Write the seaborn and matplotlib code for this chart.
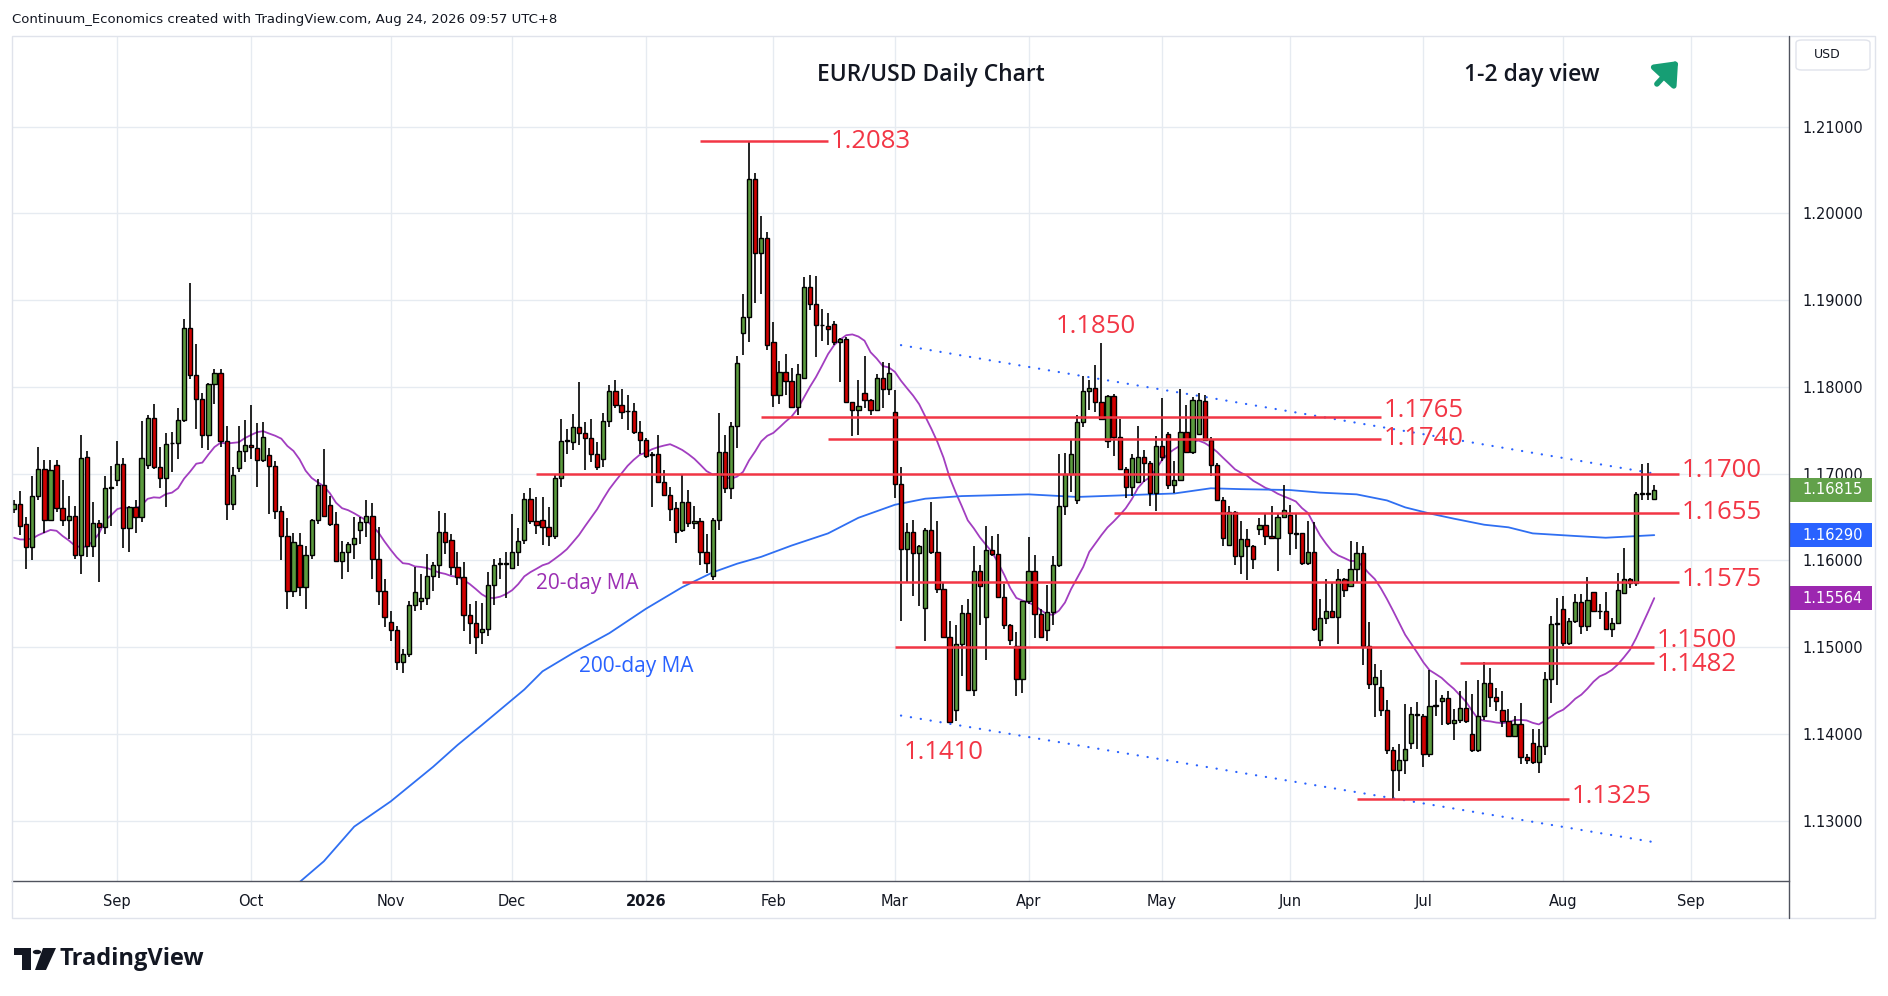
import numpy as np
import pandas as pd
import matplotlib
matplotlib.use("Agg")
import matplotlib.pyplot as plt
import matplotlib.transforms as mtransforms
from matplotlib.patches import Rectangle, Circle, Polygon, FancyBboxPatch
from matplotlib.lines import Line2D
import seaborn as sns

# -------------------------
# Data: EUR/USD daily candles
# -------------------------
first_day = "2025-08-07"
calendar_end = "2026-09-30"
holidays = ["2025-12-25", "2026-01-01"]

opens = [
    1.1659, 1.1665, 1.1642, 1.1615, 1.1674, 1.1705, 1.1647, 1.1710, 1.1660, 1.1646,
    1.1651, 1.1606, 1.1719, 1.1617, 1.1643, 1.1638, 1.1683, 1.1692, 1.1711, 1.1637,
    1.1661, 1.1650, 1.1710, 1.1764, 1.1708, 1.1695, 1.1735, 1.1735, 1.1762, 1.1868,
    1.1814, 1.1786, 1.1744, 1.1803, 1.1816, 1.1737, 1.1665, 1.1706, 1.1726, 1.1733,
    1.1730, 1.1716, 1.1721, 1.1709, 1.1657, 1.1628, 1.1565, 1.1618, 1.1569, 1.1606,
    1.1646, 1.1687, 1.1664, 1.1642, 1.1599, 1.1610, 1.1619, 1.1635, 1.1644, 1.1651,
    1.1602, 1.1565, 1.1529, 1.1520, 1.1483, 1.1492, 1.1548, 1.1553, 1.1557, 1.1582,
    1.1594, 1.1633, 1.1623, 1.1592, 1.1581, 1.1537, 1.1528, 1.1517, 1.1521, 1.1571,
    1.1596, 1.1596, 1.1591, 1.1610, 1.1623, 1.1671, 1.1645, 1.1646, 1.1638, 1.1628,
    1.1695, 1.1738, 1.1736, 1.1754, 1.1747, 1.1741, 1.1723, 1.1717, 1.1760, 1.1795,
    1.1779, 1.1772, 1.1772, 1.1748, 1.1739, 1.1721, 1.1723, 1.1690, 1.1675, 1.1660,
    1.1635, 1.1667, 1.1643, 1.1645, 1.1609, 1.1582, 1.1646, 1.1725, 1.1683, 1.1755,
    1.1862, 1.1881, 1.2039, 1.1954, 1.1971, 1.1852, 1.1790, 1.1817, 1.1807, 1.1777,
    1.1810, 1.1915, 1.1895, 1.1871, 1.1870, 1.1872, 1.1852, 1.1855, 1.1782, 1.1773,
    1.1793, 1.1785, 1.1773, 1.1810, 1.1797, 1.1771, 1.1688, 1.1613, 1.1633, 1.1608,
    1.1545, 1.1635, 1.1610, 1.1567, 1.1511, 1.1427, 1.1504, 1.1539, 1.1451, 1.1588,
    1.1535, 1.1612, 1.1607, 1.1558, 1.1525, 1.1501, 1.1463, 1.1553, 1.1588, 1.1538,
    1.1520, 1.1540, 1.1594, 1.1663, 1.1699, 1.1670, 1.1759, 1.1795, 1.1799, 1.1782,
    1.1737, 1.1789, 1.1742, 1.1705, 1.1684, 1.1690, 1.1719, 1.1712, 1.1678, 1.1732,
    1.1746, 1.1687, 1.1693, 1.1748, 1.1725, 1.1746, 1.1784, 1.1739, 1.1710, 1.1670,
    1.1618, 1.1656, 1.1605, 1.1624, 1.1617, 1.1636, 1.1641, 1.1628, 1.1626, 1.1650,
    1.1652, 1.1631, 1.1631, 1.1597, 1.1610, 1.1508, 1.1533, 1.1542, 1.1535, 1.1578,
    1.1570, 1.1590, 1.1608, 1.1501, 1.1457, 1.1454, 1.1427, 1.1381, 1.1358, 1.1370,
    1.1389, 1.1423, 1.1421, 1.1377, 1.1432, 1.1438, 1.1441, 1.1412, 1.1416, 1.1430,
    1.1400, 1.1381, 1.1421, 1.1459, 1.1442, 1.1427, 1.1415, 1.1398, 1.1411, 1.1373,
    1.1389, 1.1367, 1.1386, 1.1463, 1.1527, 1.1544, 1.1505, 1.1530, 1.1552, 1.1524,
    1.1563, 1.1541, 1.1541, 1.1521, 1.1528, 1.1562, 1.1578, 1.1574, 1.1676, 1.1678,
    1.1671,
]

highs = [
    1.1670, 1.1680, 1.1650, 1.1697, 1.1731, 1.1716, 1.1716, 1.1716, 1.1693, 1.1674,
    1.1663, 1.1744, 1.1726, 1.1667, 1.1647, 1.1697, 1.1709, 1.1737, 1.1718, 1.1662,
    1.1670, 1.1760, 1.1767, 1.1780, 1.1731, 1.1747, 1.1748, 1.1775, 1.1878, 1.1920,
    1.1849, 1.1793, 1.1804, 1.1821, 1.1820, 1.1755, 1.1708, 1.1755, 1.1762, 1.1779,
    1.1758, 1.1759, 1.1730, 1.1715, 1.1662, 1.1649, 1.1632, 1.1631, 1.1616, 1.1648,
    1.1694, 1.1728, 1.1674, 1.1656, 1.1622, 1.1621, 1.1650, 1.1650, 1.1670, 1.1666,
    1.1638, 1.1578, 1.1542, 1.1524, 1.1498, 1.1553, 1.1592, 1.1584, 1.1607, 1.1598,
    1.1657, 1.1654, 1.1630, 1.1609, 1.1598, 1.1550, 1.1553, 1.1551, 1.1587, 1.1602,
    1.1603, 1.1610, 1.1653, 1.1637, 1.1678, 1.1683, 1.1673, 1.1673, 1.1661, 1.1700,
    1.1763, 1.1751, 1.1769, 1.1805, 1.1759, 1.1763, 1.1736, 1.1770, 1.1802, 1.1808,
    1.1798, 1.1790, 1.1781, 1.1760, 1.1741, 1.1725, 1.1744, 1.1704, 1.1684, 1.1667,
    1.1699, 1.1681, 1.1662, 1.1649, 1.1630, 1.1649, 1.1770, 1.1744, 1.1759, 1.1835,
    1.1907, 1.2083, 1.2046, 1.1997, 1.1978, 1.1875, 1.1830, 1.1838, 1.1822, 1.1826,
    1.1927, 1.1929, 1.1928, 1.1890, 1.1885, 1.1876, 1.1856, 1.1857, 1.1783, 1.1808,
    1.1835, 1.1786, 1.1815, 1.1828, 1.1827, 1.1796, 1.1707, 1.1643, 1.1647, 1.1618,
    1.1637, 1.1667, 1.1645, 1.1575, 1.1530, 1.1525, 1.1548, 1.1555, 1.1617, 1.1595,
    1.1639, 1.1628, 1.1630, 1.1573, 1.1526, 1.1517, 1.1553, 1.1627, 1.1606, 1.1544,
    1.1572, 1.1605, 1.1723, 1.1724, 1.1740, 1.1767, 1.1812, 1.1808, 1.1825, 1.1850,
    1.1791, 1.1792, 1.1763, 1.1707, 1.1722, 1.1755, 1.1727, 1.1714, 1.1743, 1.1787,
    1.1748, 1.1715, 1.1798, 1.1779, 1.1788, 1.1793, 1.1790, 1.1742, 1.1712, 1.1673,
    1.1662, 1.1657, 1.1645, 1.1636, 1.1618, 1.1649, 1.1654, 1.1662, 1.1654, 1.1687,
    1.1664, 1.1655, 1.1632, 1.1645, 1.1644, 1.1555, 1.1578, 1.1574, 1.1590, 1.1580,
    1.1622, 1.1621, 1.1616, 1.1529, 1.1480, 1.1474, 1.1439, 1.1385, 1.1388, 1.1434,
    1.1431, 1.1437, 1.1423, 1.1474, 1.1462, 1.1445, 1.1449, 1.1428, 1.1449, 1.1461,
    1.1446, 1.1462, 1.1483, 1.1476, 1.1453, 1.1449, 1.1428, 1.1421, 1.1435, 1.1377,
    1.1406, 1.1405, 1.1471, 1.1536, 1.1557, 1.1559, 1.1533, 1.1561, 1.1561, 1.1581,
    1.1564, 1.1550, 1.1563, 1.1533, 1.1585, 1.1614, 1.1579, 1.1679, 1.1711, 1.1712,
    1.1687,
]

lows = [
    1.1655, 1.1629, 1.1590, 1.1600, 1.1670, 1.1632, 1.1645, 1.1656, 1.1640, 1.1624,
    1.1602, 1.1584, 1.1604, 1.1604, 1.1575, 1.1630, 1.1639, 1.1686, 1.1614, 1.1609,
    1.1631, 1.1644, 1.1705, 1.1705, 1.1683, 1.1661, 1.1702, 1.1717, 1.1759, 1.1809,
    1.1751, 1.1730, 1.1727, 1.1780, 1.1731, 1.1646, 1.1658, 1.1702, 1.1713, 1.1717,
    1.1684, 1.1713, 1.1653, 1.1648, 1.1600, 1.1544, 1.1558, 1.1559, 1.1544, 1.1602,
    1.1642, 1.1651, 1.1639, 1.1599, 1.1578, 1.1586, 1.1602, 1.1619, 1.1627, 1.1578,
    1.1548, 1.1523, 1.1507, 1.1474, 1.1470, 1.1488, 1.1542, 1.1543, 1.1548, 1.1565,
    1.1580, 1.1607, 1.1583, 1.1572, 1.1518, 1.1504, 1.1492, 1.1504, 1.1513, 1.1548,
    1.1578, 1.1557, 1.1591, 1.1593, 1.1619, 1.1642, 1.1630, 1.1618, 1.1617, 1.1625,
    1.1684, 1.1722, 1.1727, 1.1733, 1.1704, 1.1713, 1.1704, 1.1708, 1.1754, 1.1775,
    1.1763, 1.1750, 1.1745, 1.1722, 1.1718, 1.1661, 1.1689, 1.1674, 1.1645, 1.1620,
    1.1633, 1.1638, 1.1636, 1.1595, 1.1585, 1.1577, 1.1635, 1.1677, 1.1671, 1.1730,
    1.1837, 1.1852, 1.1897, 1.1907, 1.1842, 1.1777, 1.1780, 1.1791, 1.1775, 1.1767,
    1.1810, 1.1888, 1.1834, 1.1853, 1.1848, 1.1848, 1.1806, 1.1782, 1.1743, 1.1744,
    1.1775, 1.1767, 1.1772, 1.1775, 1.1790, 1.1672, 1.1530, 1.1575, 1.1559, 1.1547,
    1.1507, 1.1607, 1.1562, 1.1510, 1.1412, 1.1415, 1.1467, 1.1451, 1.1443, 1.1525,
    1.1485, 1.1605, 1.1556, 1.1521, 1.1502, 1.1444, 1.1447, 1.1550, 1.1510, 1.1510,
    1.1507, 1.1525, 1.1592, 1.1652, 1.1679, 1.1665, 1.1754, 1.1773, 1.1771, 1.1762,
    1.1729, 1.1720, 1.1704, 1.1672, 1.1674, 1.1690, 1.1690, 1.1663, 1.1657, 1.1715,
    1.1682, 1.1678, 1.1693, 1.1724, 1.1723, 1.1745, 1.1739, 1.1697, 1.1669, 1.1617,
    1.1617, 1.1594, 1.1584, 1.1577, 1.1590, 1.1629, 1.1618, 1.1624, 1.1588, 1.1649,
    1.1606, 1.1613, 1.1595, 1.1595, 1.1519, 1.1501, 1.1527, 1.1534, 1.1503, 1.1558,
    1.1570, 1.1575, 1.1479, 1.1452, 1.1419, 1.1420, 1.1377, 1.1325, 1.1334, 1.1354,
    1.1382, 1.1382, 1.1362, 1.1373, 1.1421, 1.1410, 1.1410, 1.1393, 1.1412, 1.1412,
    1.1379, 1.1379, 1.1416, 1.1431, 1.1426, 1.1408, 1.1397, 1.1396, 1.1365, 1.1365,
    1.1365, 1.1355, 1.1376, 1.1435, 1.1456, 1.1501, 1.1502, 1.1528, 1.1515, 1.1518,
    1.1540, 1.1532, 1.1520, 1.1512, 1.1526, 1.1562, 1.1568, 1.1570, 1.1669, 1.1669,
    1.1671,
]

closes = [
    1.1665, 1.1640, 1.1615, 1.1674, 1.1705, 1.1647, 1.1704, 1.1660, 1.1646, 1.1651,
    1.1606, 1.1718, 1.1617, 1.1643, 1.1638, 1.1683, 1.1684, 1.1711, 1.1637, 1.1661,
    1.1650, 1.1718, 1.1764, 1.1708, 1.1695, 1.1734, 1.1735, 1.1762, 1.1868, 1.1814,
    1.1786, 1.1744, 1.1803, 1.1816, 1.1737, 1.1665, 1.1698, 1.1726, 1.1733, 1.1731,
    1.1716, 1.1742, 1.1709, 1.1657, 1.1628, 1.1565, 1.1621, 1.1569, 1.1606, 1.1646,
    1.1687, 1.1651, 1.1642, 1.1599, 1.1610, 1.1619, 1.1626, 1.1644, 1.1651, 1.1602,
    1.1565, 1.1535, 1.1520, 1.1483, 1.1492, 1.1548, 1.1563, 1.1557, 1.1582, 1.1594,
    1.1633, 1.1621, 1.1592, 1.1581, 1.1537, 1.1528, 1.1511, 1.1521, 1.1571, 1.1595,
    1.1596, 1.1596, 1.1610, 1.1622, 1.1671, 1.1645, 1.1641, 1.1638, 1.1628, 1.1695,
    1.1738, 1.1739, 1.1754, 1.1747, 1.1741, 1.1723, 1.1708, 1.1760, 1.1795, 1.1779,
    1.1771, 1.1772, 1.1748, 1.1739, 1.1720, 1.1723, 1.1690, 1.1675, 1.1659, 1.1633,
    1.1667, 1.1643, 1.1645, 1.1609, 1.1597, 1.1646, 1.1725, 1.1683, 1.1755, 1.1827,
    1.1881, 1.2039, 1.1954, 1.1971, 1.1848, 1.1790, 1.1817, 1.1807, 1.1777, 1.1815,
    1.1915, 1.1895, 1.1871, 1.1871, 1.1867, 1.1852, 1.1855, 1.1782, 1.1773, 1.1778,
    1.1785, 1.1773, 1.1810, 1.1797, 1.1816, 1.1688, 1.1613, 1.1633, 1.1608, 1.1616,
    1.1635, 1.1610, 1.1567, 1.1511, 1.1414, 1.1504, 1.1539, 1.1451, 1.1588, 1.1570,
    1.1612, 1.1607, 1.1558, 1.1525, 1.1508, 1.1463, 1.1553, 1.1588, 1.1538, 1.1512,
    1.1540, 1.1594, 1.1663, 1.1699, 1.1723, 1.1759, 1.1795, 1.1799, 1.1782, 1.1763,
    1.1789, 1.1742, 1.1705, 1.1684, 1.1718, 1.1719, 1.1712, 1.1678, 1.1732, 1.1719,
    1.1687, 1.1693, 1.1748, 1.1725, 1.1785, 1.1785, 1.1739, 1.1710, 1.1670, 1.1626,
    1.1656, 1.1605, 1.1624, 1.1617, 1.1602, 1.1641, 1.1628, 1.1626, 1.1650, 1.1658,
    1.1631, 1.1630, 1.1597, 1.1610, 1.1521, 1.1533, 1.1542, 1.1535, 1.1578, 1.1566,
    1.1590, 1.1608, 1.1501, 1.1457, 1.1465, 1.1427, 1.1381, 1.1358, 1.1370, 1.1382,
    1.1423, 1.1422, 1.1377, 1.1432, 1.1433, 1.1441, 1.1412, 1.1416, 1.1430, 1.1415,
    1.1381, 1.1420, 1.1459, 1.1442, 1.1438, 1.1415, 1.1398, 1.1411, 1.1373, 1.1370,
    1.1367, 1.1386, 1.1463, 1.1526, 1.1527, 1.1505, 1.1530, 1.1552, 1.1524, 1.1554,
    1.1541, 1.1541, 1.1521, 1.1528, 1.1566, 1.1578, 1.1574, 1.1676, 1.1678, 1.1676,
    1.16815,
]

# 20-day MA for the first days, before 20 closes are on the chart
ma20_lead = [1.1626, 1.1624, 1.1624, 1.1625, 1.1629, 1.1632, 1.1635, 1.1634, 1.1628, 1.1623,
             1.1617, 1.1615, 1.1616, 1.1622, 1.1631, 1.1646, 1.1652, 1.1659, 1.1661]

# 200-day MA
ma200_dates = ["2025-10-13", "2025-10-17", "2025-10-24", "2025-11-03", "2025-11-12", "2025-11-18",
               "2025-11-24", "2025-12-03", "2025-12-08", "2025-12-15", "2025-12-23", "2026-01-02",
               "2026-01-12", "2026-01-19", "2026-01-23", "2026-01-29", "2026-02-05", "2026-02-13",
               "2026-02-20", "2026-03-02", "2026-03-09", "2026-03-17", "2026-04-01", "2026-04-13",
               "2026-04-23", "2026-05-05", "2026-05-13", "2026-05-20", "2026-06-01", "2026-06-08",
               "2026-06-16", "2026-06-23", "2026-06-26", "2026-07-02", "2026-07-08", "2026-07-15",
               "2026-07-21", "2026-07-27", "2026-08-05", "2026-08-12", "2026-08-24"]
ma200_values = [1.1229, 1.1253, 1.1293, 1.1322, 1.1362, 1.1387,
                1.1410, 1.1451, 1.1472, 1.1493, 1.1516, 1.1544,
                1.1569, 1.1586, 1.1596, 1.1604, 1.1617, 1.1631,
                1.1649, 1.1664, 1.1671, 1.1674, 1.1676, 1.1673,
                1.1675, 1.1677, 1.1683, 1.1682, 1.1681, 1.1678,
                1.1676, 1.1669, 1.1661, 1.1654, 1.1648, 1.1641,
                1.1638, 1.1631, 1.1628, 1.1626, 1.16290]

# support / resistance levels
level_values = [1.2083, 1.1765, 1.1740, 1.1700, 1.1655, 1.1575, 1.1500, 1.1482, 1.1325]
level_starts = ["2026-01-15", "2026-01-29", "2026-02-13", "2025-12-05", "2026-04-21",
                "2026-01-12", "2026-03-02", "2026-07-09", "2026-06-16"]
level_ends = ["2026-02-13", "2026-06-22", "2026-06-22", "2026-08-28", "2026-08-28",
              "2026-08-28", "2026-08-24", "2026-08-24", "2026-08-04"]

# marked swing points without a line
swing_values = [1.1850, 1.1410]
swing_dates = ["2026-04-16", "2026-03-12"]

# channel trend lines
trend_dates = ["2026-03-03", "2026-08-24"]
trend_upper = [1.1848, 1.1700]
trend_lower = [1.1421, 1.1275]

# -------------------------
# Build frame
# -------------------------
days = pd.bdate_range(first_day, calendar_end)
days = days[~days.isin(pd.to_datetime(holidays))]
pos = pd.Series(np.arange(len(days)), index=days)

n = len(closes)
df = pd.DataFrame({"date": days[:n], "open": opens, "high": highs, "low": lows, "close": closes})
df["x"] = np.arange(n)
ma20 = df["close"].rolling(20).mean()
ma20.iloc[:19] = ma20_lead
df["ma20"] = ma20

ma200 = pd.DataFrame({"x": pos[pd.to_datetime(ma200_dates)].values, "value": ma200_values})


def xpos(d):
    return pos[pd.Timestamp(d)]


# -------------------------
# Style
# -------------------------
sns.set_style("white")
plt.rcParams["font.family"] = ["DejaVu Sans"]

GREEN = "#5b9b3e"
RED_BODY = "#d10000"
LEVEL_RED = "#f23645"
PURPLE = "#a23ec0"
BLUE = "#2f6ff2"
GRID = "#e6ebf1"
TEXT = "#131722"

W, H = 1888, 996
L, R, T, B = 12, 1789, 37, 881
ymin, ymax = 1.12303, 1.22032
xmin, xmax = -0.33, 292.18

fig = plt.figure(figsize=(W / 100, H / 100), dpi=100)
fig.patch.set_facecolor("white")
ax = fig.add_axes([L / W, 1 - B / H, (R - L) / W, (B - T) / H])

# -------------------------
# Moving averages
# -------------------------
sns.lineplot(x=df["x"], y=df["ma20"], ax=ax, color=PURPLE, linewidth=1.3, estimator=None, sort=False, zorder=2)
sns.lineplot(x=ma200["x"], y=ma200["value"], ax=ax, color=BLUE, linewidth=1.3, estimator=None, sort=False, zorder=2)

# -------------------------
# Candles
# -------------------------
up = df["close"] >= df["open"]
body_low = np.minimum(df["open"], df["close"])
body_h = np.maximum((df["close"] - df["open"]).abs(), 0.00005)
ax.vlines(df["x"], df["low"], df["high"], color="black", linewidth=1.2, zorder=3)
ax.bar(df["x"], body_h, bottom=body_low, width=0.7, color=np.where(up, GREEN, RED_BODY),
       edgecolor="black", linewidth=1.0, zorder=4)

# -------------------------
# Axes, ticks, grid
# -------------------------
ax.set_xlim(xmin, xmax)
ax.set_ylim(ymin, ymax)
ax.set_xlabel("")
ax.set_ylabel("")

month_starts = [d for d in pd.Series(days).groupby([days.year, days.month]).first() if d.day <= 3]
xt = [xpos(d) for d in month_starts]
xl = [str(d.year) if d.month == 1 else d.strftime("%b") for d in month_starts]
yt = np.arange(1.13, 1.2101, 0.01)

ax.set_xticks(xt)
ax.set_xticklabels(xl)
ax.set_yticks(yt)
ax.set_yticklabels([f"{v:.5f}" for v in yt])
ax.yaxis.tick_right()
ax.grid(True, color=GRID, linewidth=1.0, zorder=0)
ax.set_axisbelow(True)
ax.tick_params(axis="y", length=0, pad=9.5, labelsize=10.5, labelcolor=TEXT)
ax.tick_params(axis="x", length=0, pad=9, labelsize=10.5, labelcolor=TEXT)
for lab in ax.get_xticklabels():
    if lab.get_text() == "2026":
        lab.set_fontweight("bold")
for side in ["top", "left", "right"]:
    ax.spines[side].set_visible(False)
ax.spines["bottom"].set_color("#50535e")
ax.spines["bottom"].set_linewidth(1.0)

# -------------------------
# Trend lines
# -------------------------
tx = [xpos(d) for d in trend_dates]
for ys in (trend_upper, trend_lower):
    ax.plot(tx, ys, color="#2962ff", linewidth=1.6, linestyle=(0, (0.1, 4.4)),
            dash_capstyle="round", zorder=5)

# -------------------------
# Levels and labels
# -------------------------
label_dy = [0, 5, 0, 2, 0, 2, 5, -1, 2]
for lv, s, e, dy in zip(level_values, level_starts, level_ends, label_dy):
    x0, x1 = xpos(s), xpos(e)
    ax.plot([x0, x1], [lv, lv], color=LEVEL_RED, linewidth=1.8, zorder=5, solid_capstyle="butt")
    ax.annotate(f"{lv:.4f}", xy=(x1, lv), xytext=(2, dy), textcoords="offset points",
                ha="left", va="center", color=LEVEL_RED, fontsize=18.5, family="Open Sans", zorder=6)

for sv, sd, dy in zip(swing_values, swing_dates, [12, -20]):
    ax.annotate(f"{sv:.4f}", xy=(xpos(sd), sv), xytext=(0, dy), textcoords="offset points",
                ha="center", va="center", color=LEVEL_RED, fontsize=18.5, family="Open Sans", zorder=6)

ax.text(xpos("2025-12-05"), 1.15737, "20-day MA", color="#9c2fb3", fontsize=15, fontweight="medium",
        family="Open Sans", ha="left", va="center", zorder=6)
ax.text(xpos("2025-12-16"), 1.14781, "200-day MA", color="#2962ff", fontsize=15, fontweight="medium",
        family="Open Sans", ha="left", va="center", zorder=6)

# -------------------------
# Price tags on the axis
# -------------------------
blend = mtransforms.blended_transform_factory(ax.transAxes, ax.transData)
px_y = (ymax - ymin) / (B - T)
tag_w = (1872 - R) / (R - L)
tag_text_x = 1.0 + (1802 - R) / (R - L)
tags = [(df["close"].iloc[-1], "#62a14a"), (ma200["value"].iloc[-1], "#2962ff"), (df["ma20"].iloc[-1], "#9c27b0")]
for val, col in tags:
    ax.add_patch(Rectangle((1.0, val - 12 * px_y), tag_w, 24 * px_y, transform=blend,
                           facecolor=col, edgecolor="none", clip_on=False, zorder=8))
    ax.text(tag_text_x, val, f"{val:.5f}", transform=blend, color="white", fontsize=10.5,
            ha="left", va="center", clip_on=False, zorder=9)

# -------------------------
# Frame, header and logo
# -------------------------
def fx(x):
    return x / W


def fy(y):
    return 1 - y / H


fig.add_artist(Rectangle((fx(12), fy(918)), fx(1875) - fx(12), fy(36) - fy(918), transform=fig.transFigure,
                         fill=False, edgecolor="#e0e3eb", linewidth=1.0))
fig.add_artist(Line2D([fx(R), fx(R)], [fy(918), fy(36)], transform=fig.transFigure, color="#50535e", linewidth=1.0))
fig.add_artist(FancyBboxPatch((fx(1796), fy(70)), fx(1870) - fx(1796), fy(40) - fy(70),
                              boxstyle="round,pad=0,rounding_size=0.003", transform=fig.transFigure,
                              facecolor="white", edgecolor="#e0e3eb", linewidth=1.0))
fig.text(fx(1814), fy(55), "USD", fontsize=9, color=TEXT, ha="left", va="center")

fig.text(fx(12), fy(19), "Continuum_Economics created with TradingView.com, Aug 24, 2026 09:57 UTC+8",
         fontsize=9.5, color=TEXT, ha="left", va="center")
fig.text(fx(931), fy(75), "EUR/USD Daily Chart", fontsize=16.5, fontweight="semibold",
         family="Open Sans", color=TEXT, ha="center", va="center")
fig.text(fx(1532), fy(75), "1-2 day view", fontsize=16.5, fontweight="semibold",
         family="Open Sans", color=TEXT, ha="center", va="center")
ax.annotate("", xy=(1680, H - 59), xytext=(1655, H - 86), xycoords="figure pixels", textcoords="figure pixels",
            arrowprops=dict(arrowstyle="-|>,head_length=0.55,head_width=0.45", color="#169e74",
                            linewidth=4, mutation_scale=22), annotation_clip=False)

# TradingView logo
fig.add_artist(Rectangle((fx(14), fy(955)), fx(31) - fx(14), fy(948) - fy(955), transform=fig.transFigure,
                         facecolor=TEXT, edgecolor="none"))
fig.add_artist(Rectangle((fx(22), fy(970)), fx(31) - fx(22), fy(948) - fy(970), transform=fig.transFigure,
                         facecolor=TEXT, edgecolor="none"))
fig.add_artist(Circle((fx(37), fy(952)), 4.2 / W, transform=fig.transFigure, facecolor=TEXT, edgecolor="none"))
fig.add_artist(Polygon([(fx(43), fy(948)), (fx(56), fy(948)), (fx(46), fy(970)), (fx(35), fy(970))],
                       closed=True, transform=fig.transFigure, facecolor=TEXT, edgecolor="none"))
fig.text(fx(60), fy(959), "TradingView", fontsize=17, fontweight="bold", family="Open Sans",
         color=TEXT, ha="left", va="center")

fig.savefig("out.png", dpi=100, facecolor="white")
